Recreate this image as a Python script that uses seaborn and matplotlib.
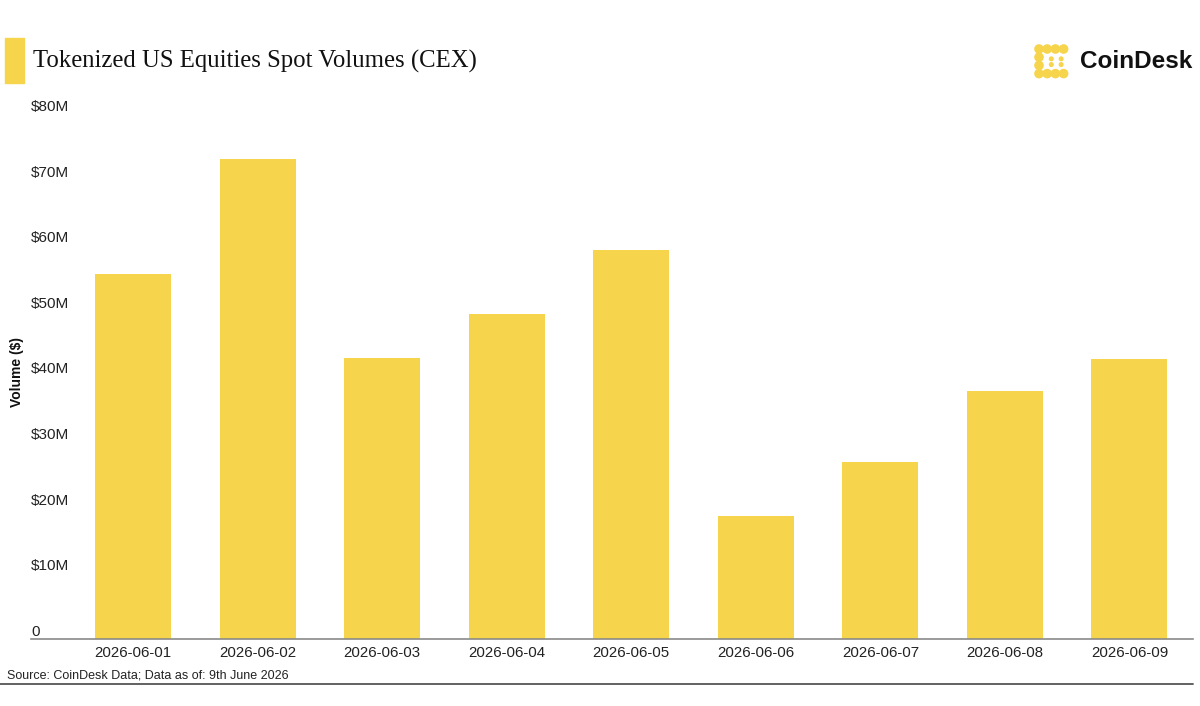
import matplotlib
matplotlib.use("Agg")
import matplotlib.pyplot as plt
import seaborn as sns
import pandas as pd
from matplotlib.patches import Rectangle, Ellipse
from matplotlib.lines import Line2D

dates = ["2026-06-01", "2026-06-02", "2026-06-03", "2026-06-04", "2026-06-05",
         "2026-06-06", "2026-06-07", "2026-06-08", "2026-06-09"]
volumes_m = [55.6, 73.2, 42.8, 49.5, 59.3, 18.7, 27.0, 37.8, 42.7]
ytick_vals = [0, 10, 20, 30, 40, 50, 60, 70, 80]
ytick_labels = ["0", "$10M", "$20M", "$30M", "$40M", "$50M", "$60M", "$70M", "$80M"]

title = "Tokenized US Equities Spot Volumes (CEX)"
source = "Source: CoinDesk Data; Data as of: 9th June 2026"
ylabel = "Volume ($)"

YELLOW = "#F6D44B"

sns.set_theme(style="white")
plt.rcParams["font.family"] = ["Liberation Sans", "DejaVu Sans"]

df = pd.DataFrame({"date": dates, "volume": volumes_m})

W, H = 1200, 706
fig = plt.figure(figsize=(W / 100, H / 100), dpi=100)
ax = fig.add_axes([31 / W, 1 - 639 / H, (1193 - 31) / W, (639 - 114) / H])

sns.barplot(data=df, x="date", y="volume", color=YELLOW, width=0.61,
            saturation=1, ax=ax, edgecolor="none")

ax.set_xlim(-0.82, 8.51)
ax.set_ylim(0, 80)
ax.set_yticks(ytick_vals)
ax.set_yticklabels(ytick_labels)
ax.tick_params(axis="y", length=0, pad=0, labelsize=11, colors="#222222")
for lab in ax.get_yticklabels():
    lab.set_horizontalalignment("left")
    lab.set_verticalalignment("bottom")
ax.tick_params(axis="x", length=0, pad=5, labelsize=10.8, colors="#222222")
ax.set_xlabel("")
ax.set_ylabel("")
for s in ["top", "right", "left"]:
    ax.spines[s].set_visible(False)
ax.spines["bottom"].set_color("#8a8a8a")
ax.spines["bottom"].set_linewidth(1.2)
ax.patch.set_alpha(0)

# y label
fig.text(17 / W, 1 - 372 / H, ylabel, rotation=90, ha="center", va="center",
         fontsize=10, fontweight="bold", color="#111111")

# title block
fig.patches.append(Rectangle((5 / W, 1 - 83 / H), 19 / W, 45 / H,
                             transform=fig.transFigure, color=YELLOW, zorder=5))
fig.text(33 / W, 1 - 61 / H, title, ha="left", va="center",
         fontsize=17.8, family=["Liberation Serif", "DejaVu Serif"], color="#111111")

# CoinDesk logo
fig.text(1192 / W, 1 - 62 / H, "CoinDesk", ha="right", va="center",
         fontsize=17.5, fontweight="bold", color="#111111")
dot_pos = [(0, 0), (1, 0), (2, 0), (3, 0), (0, 1), (0, 2), (0, 3),
           (1, 3), (2, 3), (3, 3)]
small_pos = [(1.5, 1.2), (1.5, 1.9), (2.7, 1.2), (2.7, 1.9)]
x0, y0, step = 1039, 49, 8.2
for (cx, cy) in dot_pos:
    fig.patches.append(Ellipse(((x0 + cx * step) / W, 1 - (y0 + cy * step) / H),
                               8.2 / W, 8.2 / H, transform=fig.transFigure,
                               color=YELLOW))
for (cx, cy) in small_pos:
    fig.patches.append(Ellipse(((x0 + cx * step) / W, 1 - (y0 + cy * step) / H),
                               3.6 / W, 3.6 / H, transform=fig.transFigure,
                               color=YELLOW))

# source + footer line
fig.text(7 / W, 1 - 676 / H, source, ha="left", va="center",
         fontsize=9.0, color="#222222")
fig.add_artist(Line2D([0, 1193 / W], [1 - 684 / H, 1 - 684 / H],
                      transform=fig.transFigure, color="#555555", linewidth=1.3))

fig.savefig("out.png", dpi=100)
